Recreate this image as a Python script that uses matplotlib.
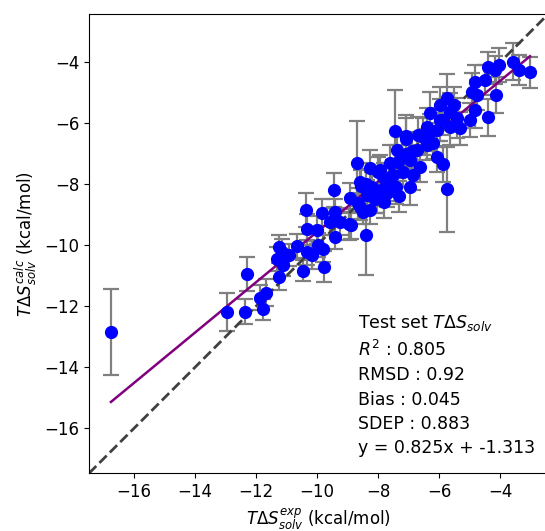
import matplotlib
matplotlib.use("Agg")
import matplotlib.pyplot as plt
import numpy as np

exp_vals = [-16.76, -12.30, -12.96, -12.37, -11.77, -11.87, -11.69, -11.25, -11.33, -11.16,
            -11.24, -11.11, -10.67, -10.91, -10.47, -10.34, -10.18, -10.37, -10.34, -10.01,
            -9.85, -9.45, -9.41, -9.58, -9.25, -8.95, -9.41, -9.96, -8.40, -8.92,
            -8.68, -8.60, -8.49, -8.27, -8.65, -8.60, -7.45, -7.09, -5.75, -5.86,
            -6.30, -5.75, -6.52, -6.19, -6.08, -6.74, -6.96, -6.63, -7.39, -7.34,
            -7.94, -8.55, -8.27, -6.41, -5.97, -5.64, -6.85, -6.96, -3.57, -3.02,
            -3.37, -4.39, -4.03, -4.17, -4.82, -4.50, -4.93, -4.77, -4.14, -4.82,
            -4.99, -4.39, -5.97, -5.64, -5.42, -5.86, -5.32, -7.07, -6.08, -8.00,
            -7.80, -7.60, -7.90, -7.50, -7.70, -8.20, -7.40, -7.20, -7.60, -8.40,
            -7.30, -8.10, -7.80, -8.35, -6.70, -6.40, -6.90, -7.10, -6.30, -5.50,
            -9.76, -9.80, -8.05, -8.89]
calc_vals = [-12.85, -10.94, -12.20, -12.18, -12.10, -11.72, -11.56, -11.03, -10.46, -10.24,
             -10.05, -10.66, -10.03, -10.32, -10.84, -10.24, -10.32, -8.85, -9.48, -9.50,
             -8.93, -8.19, -8.90, -9.23, -9.23, -9.32, -9.72, -10.00, -9.67, -8.46,
             -7.32, -8.74, -8.90, -8.85, -8.63, -7.92, -6.25, -6.53, -8.17, -7.34,
             -5.68, -5.18, -6.44, -6.66, -7.10, -6.88, -7.21, -7.43, -6.88, -7.26,
             -7.53, -8.05, -7.48, -6.11, -5.90, -6.11, -7.70, -8.08, -3.98, -4.33,
             -4.26, -4.17, -4.09, -4.26, -4.64, -4.58, -4.97, -5.08, -5.08, -5.57,
             -5.90, -5.81, -5.40, -5.62, -5.84, -5.90, -6.17, -6.42, -6.22, -7.60,
             -7.80, -8.00, -8.20, -7.70, -8.30, -8.10, -8.10, -7.60, -7.30, -8.00,
             -8.40, -8.50, -8.60, -8.35, -6.40, -6.70, -6.90, -7.00, -6.30, -5.40,
             -10.70, -10.11, -8.46, -9.35]
calc_err = [1.42, 0.55, 0.63, 0.40, 0.35, 0.40, 0.45, 0.45, 0.40, 0.45,
            0.40, 0.35, 0.40, 0.35, 0.35, 0.40, 0.45, 0.55, 0.50, 0.45,
            0.45, 0.55, 0.40, 0.45, 0.45, 0.50, 0.40, 0.40, 1.30, 0.50,
            1.38, 0.45, 0.40, 0.45, 0.50, 0.60, 1.35, 0.80, 1.40, 0.60,
            0.70, 0.80, 0.60, 0.50, 0.50, 0.60, 0.50, 0.50, 0.60, 0.55,
            0.50, 0.50, 0.60, 0.60, 0.70, 0.60, 0.50, 0.60, 0.60, 0.50,
            0.50, 0.50, 0.55, 0.45, 0.55, 0.50, 0.60, 0.50, 0.60, 0.60,
            0.55, 0.60, 0.60, 0.60, 0.65, 0.50, 0.55, 0.60, 0.55, 0.50,
            0.50, 0.55, 0.50, 0.50, 0.45, 0.50, 0.55, 0.50, 0.60, 0.50,
            0.50, 0.45, 0.50, 0.50, 0.60, 0.50, 0.50, 0.55, 0.60, 0.60,
            0.50, 0.45, 0.50, 0.45]

slope = 0.825
intercept = -1.313
stats_text = ("Test set $T\\Delta S_{solv}$\n"
              "$R^2$ : 0.805\n"
              "RMSD : 0.92\n"
              "Bias : 0.045\n"
              "SDEP : 0.883\n"
              "y = 0.825x + -1.313")

lims = (-17.48, -2.42)

fig = plt.figure(figsize=(5.45, 5.31), dpi=100)
ax = fig.add_axes([89 / 545, (531 - 473.3) / 531, 459.3 / 545, 459.3 / 531])

ax.errorbar(exp_vals, calc_vals, yerr=calc_err, fmt='none', ecolor='grey',
            elinewidth=1.6, capsize=6, capthick=1.6, zorder=2)

ax.plot(lims, lims, '--', color='#404040', lw=2, zorder=2.5)
xfit = np.array([min(exp_vals), max(exp_vals)])
ax.plot(xfit, slope * xfit + intercept, color='purple', lw=1.8, zorder=2.5)

ax.plot(exp_vals, calc_vals, 'o', color='blue', markersize=8.5, zorder=3)

ax.set_xlim(lims)
ax.set_ylim(lims)
ax.set_xticks([-16, -14, -12, -10, -8, -6, -4])
ax.set_yticks([-16, -14, -12, -10, -8, -6, -4])
ax.tick_params(labelsize=12)
ax.set_xlabel("$T\\Delta S^{exp}_{solv}$ (kcal/mol)", fontsize=12)
ax.set_ylabel("$T\\Delta S^{calc}_{solv}$ (kcal/mol)", fontsize=12)

ax.text(0.586, 0.035, stats_text, transform=ax.transAxes, ha='left', va='bottom',
        fontsize=12.5, linespacing=1.45)

fig.savefig("out.png", dpi=100)
